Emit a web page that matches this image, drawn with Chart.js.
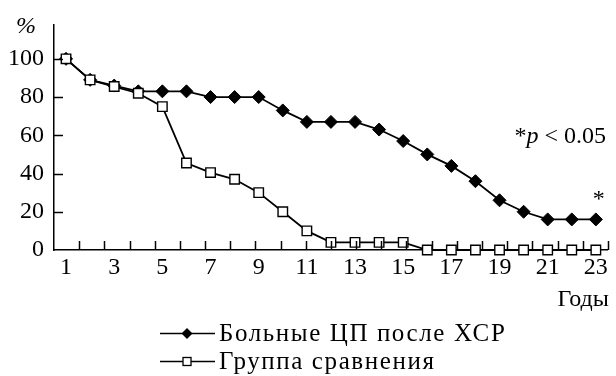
<!DOCTYPE html>
<html>
<head>
<meta charset="utf-8">
<script src="https://cdn.jsdelivr.net/npm/chart.js@4.4.1/dist/chart.umd.min.js"></script>
<style>
html,body{margin:0;padding:0;background:#fff;}
#wrap{width:616px;height:376px;position:relative;}
</style>
</head>
<body>
<div id="wrap"><canvas id="c" width="616" height="376"></canvas></div>
<script>
// ---- data ----
const years = [1,2,3,4,5,6,7,8,9,10,11,12,13,14,15,16,17,18,19,20,21,22,23];
const patients = [100,89,86,83,83,83,80,80,80,73,67,67,67,63,57,50,44,36,26,20,16,16,16];
const control = [100,89,85.5,82,75,45.5,40.5,37,30,20,10,4,4,4,4,0,0,0,0,0,0,0,0];
const xTickLabels = [1,3,5,7,9,11,13,15,17,19,21,23];
const yTickValues = [0,20,40,60,80,100];
const seriesLabels = ['Больные ЦП после ХСР', 'Группа сравнения'];
const xTitle = 'Годы';
const yUnit = '%';
const noteParts = ['*', 'p', ' < 0.05'];
const starMark = '*';

const FONT = '"Liberation Serif", "Times New Roman", "DejaVu Serif", serif';

const toXY = arr => years.map((x, i) => ({x: x, y: arr[i]}));

const decor = {
  id: 'decor',
  afterDraw(chart) {
    const ctx = chart.ctx;
    const xs = chart.scales.x, ys = chart.scales.y, xt = chart.scales.xt;
    const a = chart.chartArea;
    ctx.save();
    ctx.strokeStyle = '#000';
    ctx.lineWidth = 1.5;
    // inward y ticks
    yTickValues.forEach(v => {
      if (v === 0) return;
      const py = Math.round(ys.getPixelForValue(v)) + 0.5;
      ctx.beginPath(); ctx.moveTo(a.left, py); ctx.lineTo(a.left + 9, py); ctx.stroke();
    });
    // inward x ticks (equal divisions of the axis)
    xt.ticks.forEach(t => {
      if (t.value === 0) return;
      const px = Math.round(xt.getPixelForValue(t.value)) + 0.5;
      ctx.beginPath(); ctx.moveTo(px, a.bottom); ctx.lineTo(px, a.bottom - 9); ctx.stroke();
    });
    ctx.fillStyle = '#000';
    // unit label
    ctx.font = 'italic 24px ' + FONT;
    ctx.textAlign = 'center';
    ctx.textBaseline = 'alphabetic';
    ctx.fillText(yUnit, 26, 33);
    // x axis title
    ctx.font = '24px ' + FONT;
    ctx.textAlign = 'right';
    ctx.fillText(xTitle, a.right + 1, 306);
    // significance note
    const nx = 606;
    const ny = ys.getPixelForValue(56);
    const f1 = '24px ' + FONT, f2 = 'italic 24px ' + FONT;
    ctx.textAlign = 'left';
    ctx.font = f1; const w0 = ctx.measureText(noteParts[0]).width;
    ctx.font = f2; const w1 = ctx.measureText(noteParts[1]).width;
    ctx.font = f1; const w2 = ctx.measureText(noteParts[2]).width;
    let sx = nx - (w0 + w1 + w2);
    ctx.font = f1; ctx.fillText(noteParts[0], sx, ny); sx += w0;
    ctx.font = f2; ctx.fillText(noteParts[1], sx, ny); sx += w1;
    ctx.font = f1; ctx.fillText(noteParts[2], sx, ny);
    // star above last point
    ctx.font = '24px ' + FONT;
    ctx.textAlign = 'center';
    ctx.fillText(starMark, xs.getPixelForValue(23) + 3, ys.getPixelForValue(patients[22]) - 13);
    // legend
    const rows = [333, 361];
    chart.data.datasets.forEach((ds, i) => {
      const y = rows[i] + 0.5;
      ctx.lineWidth = 1.5;
      ctx.beginPath(); ctx.moveTo(160, y); ctx.lineTo(215, y); ctx.stroke();
      if (ds.pointStyle === 'rectRot') {
        const r = 5.5;
        ctx.beginPath();
        ctx.moveTo(187, y - r); ctx.lineTo(187 + r, y); ctx.lineTo(187, y + r); ctx.lineTo(187 - r, y); ctx.closePath();
        ctx.fillStyle = '#000'; ctx.fill();
      } else {
        const s = 8;
        ctx.fillStyle = '#fff';
        ctx.fillRect(187 - s/2, y - s/2, s, s);
        ctx.lineWidth = 1.3;
        ctx.strokeRect(187 - s/2, y - s/2, s, s);
      }
      ctx.fillStyle = '#000';
      ctx.font = '25px ' + FONT;
      ctx.letterSpacing = '1.6px';
      ctx.textAlign = 'left';
      ctx.textBaseline = 'middle';
      ctx.fillText(ds.label, 219, rows[i] + 1);
      ctx.letterSpacing = '0px';
      ctx.textBaseline = 'alphabetic';
    });
    ctx.restore();
  }
};

new Chart(document.getElementById('c'), {
  type: 'line',
  data: {
    datasets: [
      {
        label: seriesLabels[0],
        data: toXY(patients),
        borderColor: '#000',
        borderWidth: 1.8,
        pointStyle: 'rectRot',
        pointRadius: 6.5,
        pointBackgroundColor: '#000',
        pointBorderColor: '#000',
        pointBorderWidth: 1,
        tension: 0,
        clip: false,
        order: 1
      },
      {
        label: seriesLabels[1],
        data: toXY(control),
        borderColor: '#000',
        borderWidth: 1.8,
        pointStyle: 'rect',
        pointRadius: 6.7,
        pointBackgroundColor: '#fff',
        pointBorderColor: '#000',
        pointBorderWidth: 1.4,
        tension: 0,
        clip: false,
        order: 0
      }
    ]
  },
  options: {
    responsive: false,
    animation: false,
    devicePixelRatio: 1,
    layout: { padding: { top: 20, right: 3, left: 0, bottom: 63 } },
    plugins: { legend: { display: false }, tooltip: { enabled: false } },
    scales: {
      x: {
        type: 'linear',
        min: 0.5, max: 23.5,
        afterBuildTicks: s => { s.ticks = xTickLabels.map(v => ({value: v})); },
        afterFit: s => { s.height = 63; },
        ticks: { color: '#000', font: { family: FONT, size: 24 }, padding: 3, maxRotation: 0, autoSkip: false },
        grid: { display: false, drawTicks: false },
        border: { display: true, color: '#000', width: 1.5 },
        title: { display: false, text: xTitle }
      },
      xt: {
        type: 'linear',
        display: false,
        position: 'bottom',
        min: 0, max: 22,
        ticks: { stepSize: 1 }
      },
      y: {
        min: 0, max: 118,
        afterBuildTicks: s => { s.ticks = yTickValues.map(v => ({value: v})); },
        afterFit: s => { s.width = 54; },
        ticks: { color: '#000', font: { family: FONT, size: 24 }, padding: 10 },
        grid: { display: false, drawTicks: false },
        border: { display: true, color: '#000', width: 1.5 }
      }
    }
  },
  plugins: [decor]
});
</script>
</body>
</html>
